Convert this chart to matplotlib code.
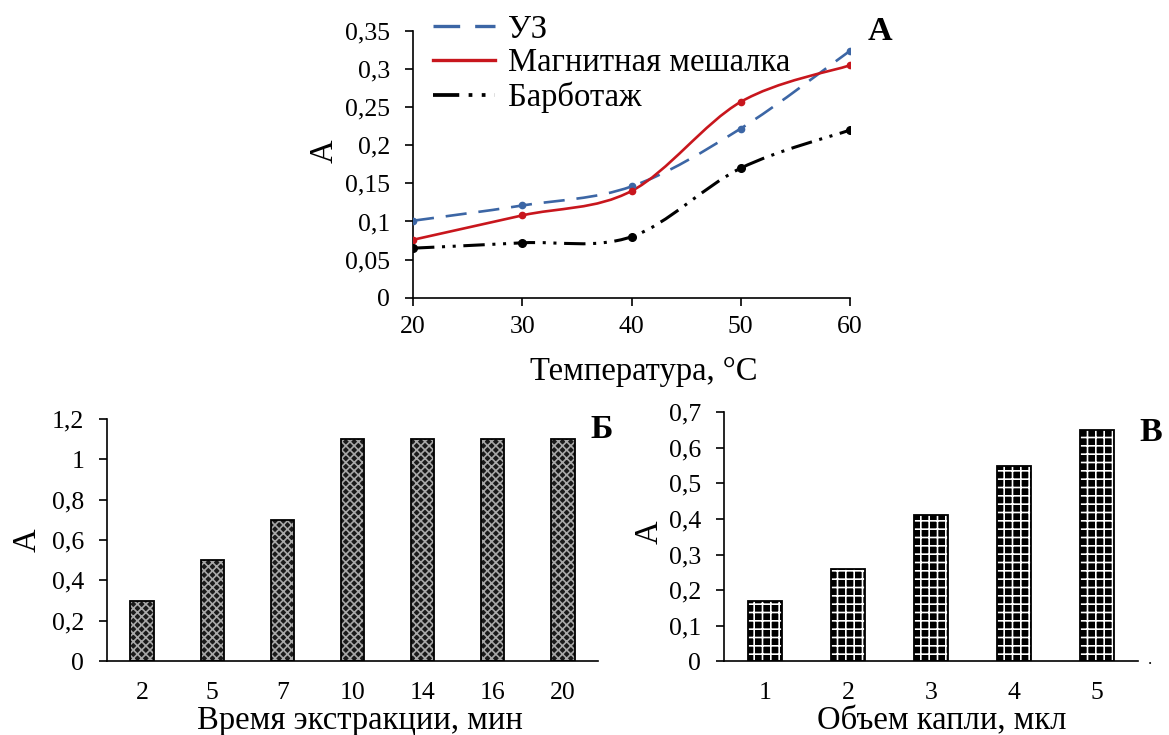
import numpy as np
import matplotlib

matplotlib.use("Agg")
import matplotlib.pyplot as plt
from matplotlib.path import Path
from matplotlib.patches import PathPatch
from matplotlib.lines import Line2D
from matplotlib.ticker import FuncFormatter, MultipleLocator

plt.rcParams.update({
    "font.family": "serif",
    "font.serif": ["Liberation Serif", "DejaVu Serif"],
    "font.size": 18.5,
    "xtick.labelsize": 18.5,
    "ytick.labelsize": 18.5,
    "axes.linewidth": 1.2,
    "hatch.linewidth": 1.2,
})

# ---- data ------------------------------------------------------------------
temp = [20, 30, 40, 50, 60]
uz = [0.101, 0.121, 0.146, 0.222, 0.324]
mixer = [0.076, 0.108, 0.140, 0.257, 0.305]
barbot = [0.065, 0.072, 0.080, 0.170, 0.220]

time_labels = ["2", "5", "7", "10", "14", "16", "20"]
time_vals = [0.3, 0.5, 0.7, 1.1, 1.1, 1.1, 1.1]

drop_labels = ["1", "2", "3", "4", "5"]
drop_vals = [0.17, 0.26, 0.41, 0.55, 0.65]

W, H = 1169, 735
LABEL_FS = 23.5
comma = FuncFormatter(lambda v, _: f"{v:g}".replace(".", ","))


def smooth_path(xs, ys):
    # Excel-like smoothed line: cubic Bezier through the points
    pts = np.column_stack([xs, ys]).astype(float)
    verts = [pts[0]]
    codes = [Path.MOVETO]
    n = len(pts)
    for i in range(n - 1):
        p0 = pts[i - 1] if i > 0 else pts[i]
        p1, p2 = pts[i], pts[i + 1]
        p3 = pts[i + 2] if i + 2 < n else pts[i + 1]
        verts += [p1 + (p2 - p0) / 6, p2 - (p3 - p1) / 6, p2]
        codes += [Path.CURVE4] * 3
    return Path(verts, codes)


def box(l, b, w, h):
    return [l / W, b / H, w / W, h / H]


def style_axes(ax, xpad):
    ax.tick_params(axis="y", direction="out", length=6, width=1.2, pad=10.5)
    ax.tick_params(axis="x", pad=xpad)
    ax.spines[["top", "right"]].set_visible(False)


fig = plt.figure(figsize=(W / 100, H / 100), dpi=100)

# ---- top: A vs temperature ------------------------------------------------ #
ax = fig.add_axes(box(413, 735 - 297.7, 437, 266.7))
styles = [
    (uz, "#3c66a5", (0, (8, 4.5)), 1.9, 4.5, "УЗ"),
    (mixer, "#c8161d", "-", 1.9, 4.5, "Магнитная мешалка"),
    (barbot, "black", (0, (7, 2.5, 1, 2.5, 1, 2.5)), 2.2, 5.5, "Барботаж"),
]
handles = []
for ys, col, ls, lw, ms, lab in styles:
    ax.add_patch(PathPatch(smooth_path(temp, ys), fill=False, edgecolor=col,
                           lw=lw, linestyle=ls, zorder=2))
    ax.plot(temp, ys, "o", color=col, ms=ms, zorder=3)
    handles.append(Line2D([], [], color=col, lw=lw + 0.5, linestyle=ls, label=lab))

ax.set_xlim(20, 60)
ax.set_ylim(0, 0.35)
ax.xaxis.set_major_locator(MultipleLocator(10))
ax.yaxis.set_major_locator(MultipleLocator(0.05))
ax.yaxis.set_major_formatter(comma)
style_axes(ax, 7.5)
ax.tick_params(axis="x", direction="out", length=6, width=1.2)
for s in ax.spines.values():
    s.set_clip_on(False)
ax.set_xlabel("Температура, °C", fontsize=LABEL_FS)
ax.xaxis.set_label_coords(0.529, -0.22)
ax.set_ylabel("A", fontsize=LABEL_FS)
ax.yaxis.set_label_coords(-0.169, 0.55)
ax.legend(handles=handles, loc="upper left", bbox_to_anchor=(433 / W, 1 - 14 / H),
          bbox_transform=fig.transFigure, frameon=False, fontsize=LABEL_FS,
          handlelength=1.9, handletextpad=0.4, labelspacing=0.1,
          borderpad=0, borderaxespad=0)
fig.text(880 / W, 1 - 31 / H, "A", fontsize=24.5, fontweight="bold",
         ha="center", va="center")

# ---- bottom left: extraction time ----------------------------------------- #
ax = fig.add_axes(box(107, 74, 491, 242))
pos = np.arange(len(time_labels))
ax.bar(pos, time_vals, width=0.33, color="#1a1a1a", edgecolor="#a8a8a8",
       hatch="xxxx", lw=0, zorder=2)
ax.bar(pos, time_vals, width=0.33, fill=False, edgecolor="black", lw=1.3, zorder=3)
ax.set_xlim(-0.5, len(time_labels) - 0.5)
ax.set_ylim(0, 1.2)
ax.set_xticks(pos, time_labels)
ax.yaxis.set_major_locator(MultipleLocator(0.2))
ax.yaxis.set_major_formatter(comma)
style_axes(ax, 15)
ax.tick_params(axis="x", length=0)
ax.set_xlabel("Время экстракции, мин", fontsize=LABEL_FS)
ax.xaxis.set_label_coords(0.515, -0.185)
ax.set_ylabel("A", fontsize=LABEL_FS)
ax.yaxis.set_label_coords(-0.132, 0.5)
fig.text(602 / W, 1 - 430 / H, "Б", fontsize=24.5, fontweight="bold",
         ha="center", va="center")

# ---- bottom right: drop volume -------------------------------------------- #
ax = fig.add_axes(box(724, 73.7, 414, 249))
pos = np.arange(len(drop_labels))
ax.bar(pos, drop_vals, width=0.41, color="black", edgecolor="white",
       hatch="++", lw=0, zorder=2)
ax.bar(pos, drop_vals, width=0.41, fill=False, edgecolor="black", lw=1.3, zorder=3)
ax.set_xlim(-0.5, len(drop_labels) - 0.5)
ax.set_ylim(0, 0.7)
ax.set_xticks(pos, drop_labels)
ax.yaxis.set_major_locator(MultipleLocator(0.1))
ax.yaxis.set_major_formatter(comma)
style_axes(ax, 15)
ax.tick_params(axis="x", length=0)
ax.set_xlabel("Объем капли, мкл", fontsize=LABEL_FS)
ax.xaxis.set_label_coords(0.525, -0.18)
ax.set_ylabel("A", fontsize=LABEL_FS)
ax.yaxis.set_label_coords(-0.1425, 0.52)
fig.text(1151 / W, 1 - 432 / H, "В", fontsize=24.5, fontweight="bold",
         ha="center", va="center")
fig.text(1150 / W, 1 - 660 / H, ".", fontsize=12, ha="center", va="center")

fig.savefig("out.png", dpi=100)
